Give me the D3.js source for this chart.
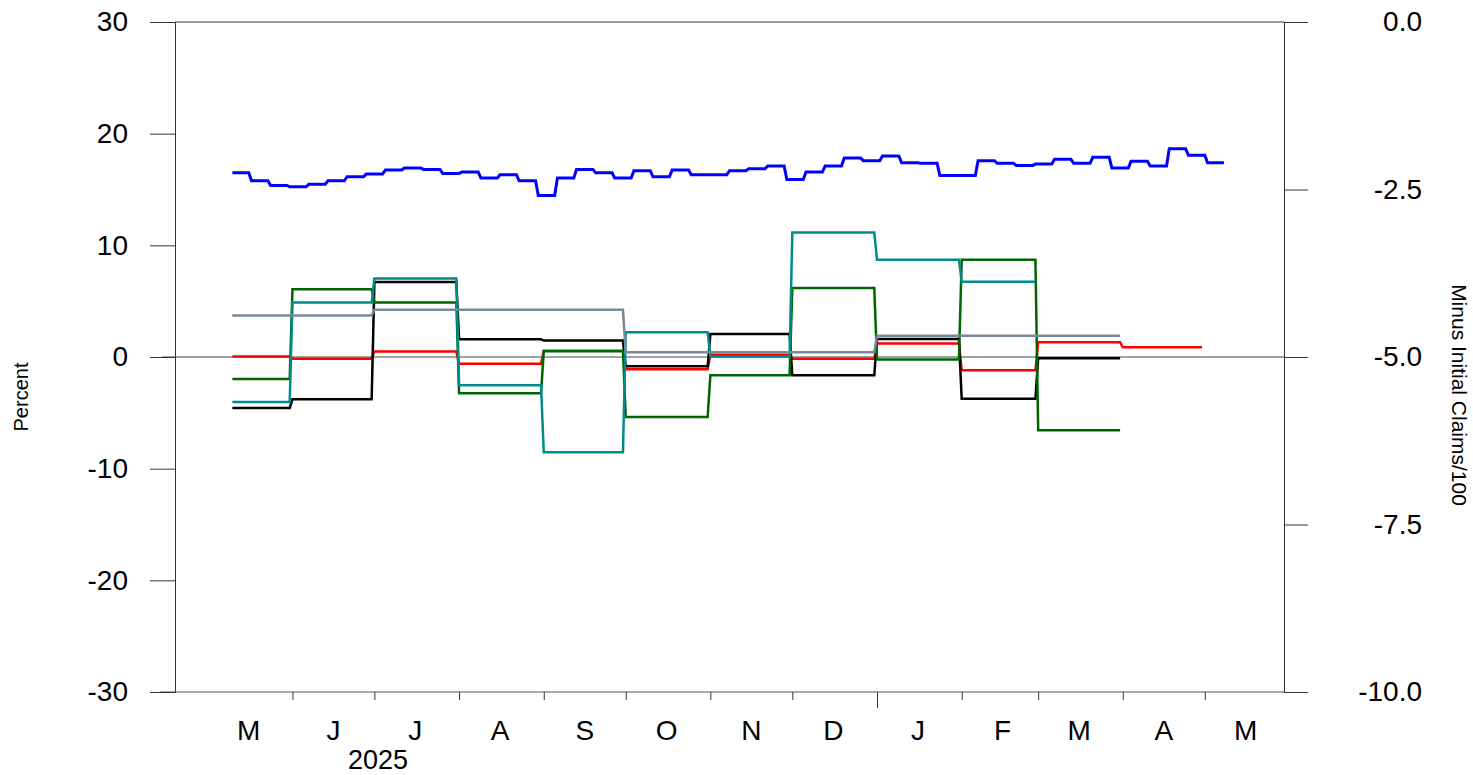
<!DOCTYPE html>
<html>
<head>
<meta charset="utf-8">
<script src="https://cdn.jsdelivr.net/npm/d3@7"></script>
<style>
  body { margin: 0; background: #fff; }
  text { font-family: "Liberation Sans", Arial, sans-serif; fill: #000; }
</style>
</head>
<body>
<div class="vis-holder"></div>
<script>
// monthly series, May 2025 .. Apr 2026 (percent, left axis)
var months = ["2025-05","2025-06","2025-07","2025-08","2025-09","2025-10",
              "2025-11","2025-12","2026-01","2026-02","2026-03","2026-04"];
var redVals   = [0.05, -0.15, 0.5, -0.6, 0.57, -1.1, 0.2, -0.15, 1.2, -1.19, 1.32, 0.87];
var blackVals = [-4.57, -3.79, 6.71, 1.58, 1.47, -0.83, 2.06, -1.64, 1.61, -3.73, -0.12, null];
var greenVals = [-1.97, 6.06, 4.87, -3.25, 0.51, -5.37, -1.64, 6.18, -0.23, 8.72, -6.56, null];
var tealVals  = [-4.03, 4.87, 7.02, -2.53, -8.53, 2.21, 0.05, 11.14, 8.72, 6.75, null, null];
var grayVals  = [3.71, 3.71, 4.24, 4.24, 4.24, 0.42, 0.42, 0.42, 1.91, 1.91, 1.91, null];

// weekly series (right axis), weeks starting 2025-05-10
var weekStart = "2025-05-10";
var claims = [-2.25, -2.37, -2.44, -2.46, -2.42, -2.37, -2.31, -2.27, -2.21, -2.18,
              -2.20, -2.26, -2.24, -2.33, -2.28, -2.37, -2.59, -2.33, -2.20, -2.25,
              -2.33, -2.22, -2.31, -2.21, -2.28, -2.28, -2.22, -2.19, -2.15, -2.35,
              -2.24, -2.15, -2.03, -2.07, -2.00, -2.10, -2.11, -2.29, -2.29, -2.07,
              -2.11, -2.14, -2.12, -2.05, -2.11, -2.02, -2.18, -2.08, -2.15, -1.89,
              -1.99, -2.10];

var leftTicks = [30, 20, 10, 0, -10, -20, -30];
var rightTicks = [0, -2.5, -5, -7.5, -10];
var monthLetters = ["M","J","J","A","S","O","N","D","J","F","M","A","M"];

var width = 1473, height = 775;
var margin = {top: 22, bottom: 83, left: 175, right: 189};
var parse = d3.timeParse("%Y-%m-%d");
var parseM = d3.timeParse("%Y-%m");

var svg = d3.select("div.vis-holder").append("svg")
            .attr("width", width).attr("height", height);

var xScale = d3.scaleTime()
               .domain([parse("2025-04-19"), parse("2026-05-30")])
               .range([margin.left, width - margin.right]);
var yScale = d3.scaleLinear().domain([-30, 30])
               .range([height - margin.bottom, margin.top]);
var y2Scale = d3.scaleLinear().domain([-10, 0])
                .range([height - margin.bottom, margin.top]);

var x0 = margin.left, x1 = width - margin.right;
var yTop = margin.top, yBot = height - margin.bottom;

// frame
svg.append("line").attr("x1", x0).attr("x2", x1).attr("y1", yTop).attr("y2", yTop)
   .attr("stroke", "#333").attr("stroke-width", 1);
svg.append("line").attr("x1", 160).attr("x2", x1).attr("y1", yBot).attr("y2", yBot)
   .attr("stroke", "#555").attr("stroke-width", 1);
svg.append("line").attr("x1", 162).attr("x2", x1).attr("y1", yScale(0)).attr("y2", yScale(0))
   .attr("stroke", "#444").attr("stroke-width", 1);

// left axis
var yAxis = svg.append("g")
               .attr("transform", `translate(${x0}, 0)`)
               .call(d3.axisLeft(yScale).tickValues(leftTicks).tickSize(25).tickPadding(22)
                       .tickFormat(function(d) { return String(d); }));
yAxis.select(".domain").attr("stroke", "#333");
yAxis.selectAll(".tick line").attr("stroke", "#333");
yAxis.selectAll("text").style("font-size", "28px").attr("font-family", null);

// right axis
var y2Axis = svg.append("g")
                .attr("transform", `translate(${x1}, 0)`)
                .call(d3.axisRight(y2Scale).tickValues(rightTicks).tickSize(24)
                        .tickFormat(function(d) { return d.toFixed(1); }));
y2Axis.select(".domain").attr("stroke", "#333");
y2Axis.selectAll(".tick line").attr("stroke", "#333");
y2Axis.selectAll("text").attr("x", 138).attr("text-anchor", "end")
      .style("font-size", "28px").attr("font-family", null);

// bottom axis: month boundaries, longer tick at year start
var tickDates = d3.timeMonth.range(parse("2025-06-01"), parse("2026-05-02"));
var xAxis = svg.append("g")
               .attr("transform", `translate(0, ${yBot})`)
               .call(d3.axisBottom(xScale).tickValues(tickDates).tickSize(8).tickFormat(""));
xAxis.select(".domain").remove();
xAxis.selectAll(".tick line").attr("stroke", "#333")
     .attr("y2", function(d) { return d.getMonth() === 0 ? 16 : 8; });

var labelMonths = d3.timeMonth.range(parse("2025-05-01"), parse("2026-05-02"));
svg.append("g").selectAll("text")
   .data(labelMonths).enter().append("text")
   .attr("x", function(d) { return xScale(d3.timeDay.offset(d, 15)); })
   .attr("y", 740)
   .attr("text-anchor", "middle")
   .style("font-size", "28px")
   .text(function(d, i) { return monthLetters[i]; });

svg.append("text").attr("x", 378).attr("y", 769).attr("text-anchor", "middle")
   .style("font-size", "27px").text("2025");

// axis titles
svg.append("text").attr("text-anchor", "middle")
   .attr("transform", "translate(28," + 397 + ")rotate(-90)")
   .style("font-size", "20px").text("Percent");
svg.append("text").attr("text-anchor", "middle")
   .attr("transform", "translate(1452," + 395 + ")rotate(90)")
   .style("font-size", "21px").text("Minus Initial Claims/100");

// monthly step lines
var firstDay = parse(weekStart);
function monthPoints(vals) {
  var pts = [];
  vals.forEach(function(v, i) {
    if (v === null) return;
    var m = parseM(months[i]);
    var start = m < firstDay ? firstDay : m;
    var end = d3.timeDay.offset(d3.timeMonth.offset(m, 1), -1);
    pts.push({date: start, v: v});
    pts.push({date: end, v: v});
  });
  return pts;
}
var line = d3.line()
             .x(function(d) { return xScale(d.date); })
             .y(function(d) { return yScale(d.v); });

var series = [
  {vals: redVals, color: "#ff0000"},
  {vals: blackVals, color: "#000000"},
  {vals: greenVals, color: "#006400"},
  {vals: tealVals, color: "#008b8b"},
  {vals: grayVals, color: "#778899"}
];
svg.append("g").selectAll("path")
   .data(series).enter().append("path")
   .attr("d", function(s) { return line(monthPoints(s.vals)); })
   .attr("fill", "none")
   .attr("stroke", function(s) { return s.color; })
   .attr("stroke-width", 2.5);

// weekly claims line (right axis)
var weekPts = [];
claims.forEach(function(v, i) {
  var d = d3.timeDay.offset(firstDay, 7 * i);
  weekPts.push({date: d, v: v});
  weekPts.push({date: d3.timeDay.offset(d, 6), v: v});
});
var line2 = d3.line()
              .x(function(d) { return xScale(d.date); })
              .y(function(d) { return y2Scale(d.v); });
svg.append("path").datum(weekPts)
   .attr("d", line2)
   .attr("fill", "none")
   .attr("stroke", "#0000ff")
   .attr("stroke-width", 3);
</script>
</body>
</html>
